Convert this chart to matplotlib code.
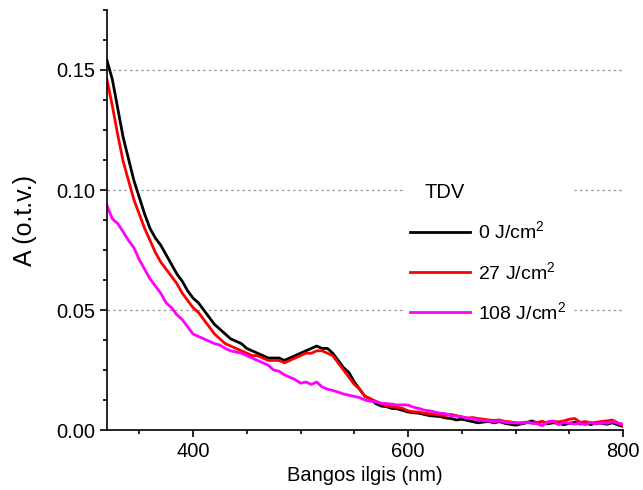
import matplotlib
matplotlib.use("Agg")
import matplotlib.pyplot as plt
import numpy as np
from matplotlib.ticker import MultipleLocator, FormatStrFormatter

plt.rcParams["font.family"] = ["Liberation Sans", "DejaVu Sans"]
plt.rcParams["mathtext.fontset"] = "custom"
plt.rcParams["mathtext.rm"] = "Liberation Sans"
plt.rcParams["mathtext.it"] = "Liberation Sans"

# wavelength grid (nm), 5 nm steps
wl = np.arange(320, 805, 5)

a_0 = [
    0.154, 0.146, 0.134, 0.122, 0.113, 0.104, 0.097, 0.090, 0.084, 0.080,
    0.077, 0.073, 0.069, 0.065, 0.062, 0.058, 0.055, 0.053, 0.050, 0.047,
    0.044, 0.042, 0.040, 0.038, 0.037, 0.036, 0.034, 0.033, 0.032, 0.031,
    0.030, 0.030, 0.030, 0.029, 0.030, 0.031, 0.032, 0.033, 0.034, 0.035,
    0.034, 0.034, 0.032, 0.029, 0.026, 0.024, 0.020, 0.017, 0.014, 0.013,
    0.011, 0.010, 0.0097, 0.009, 0.0088, 0.0082, 0.0075, 0.0072, 0.007, 0.0065,
    0.006, 0.0058, 0.0056, 0.005, 0.0048, 0.0042, 0.0045, 0.004, 0.0035, 0.003,
    0.0033, 0.0036, 0.003, 0.0035, 0.0028, 0.0024, 0.002, 0.0025, 0.003, 0.0038,
    0.003, 0.0035, 0.0026, 0.003, 0.0028, 0.0022, 0.0028, 0.0032, 0.0025, 0.003,
    0.0022, 0.003, 0.0028, 0.0024, 0.003, 0.0022, 0.0015,
]
a_27 = [
    0.146, 0.135, 0.123, 0.112, 0.104, 0.096, 0.090, 0.084, 0.079, 0.074,
    0.070, 0.067, 0.064, 0.061, 0.057, 0.054, 0.051, 0.049, 0.046, 0.043,
    0.040, 0.038, 0.036, 0.035, 0.034, 0.033, 0.032, 0.031, 0.031, 0.030,
    0.029, 0.029, 0.029, 0.028, 0.029, 0.030, 0.031, 0.032, 0.032, 0.033,
    0.033, 0.032, 0.031, 0.028, 0.025, 0.022, 0.019, 0.017, 0.014, 0.013,
    0.012, 0.011, 0.010, 0.0097, 0.0095, 0.009, 0.008, 0.0076, 0.0075, 0.007,
    0.0068, 0.0065, 0.0062, 0.006, 0.0065, 0.006, 0.0055, 0.005, 0.0052, 0.0048,
    0.0045, 0.0042, 0.004, 0.0042, 0.0036, 0.0034, 0.003, 0.003, 0.0033, 0.003,
    0.0032, 0.0035, 0.003, 0.0036, 0.0034, 0.0038, 0.0045, 0.0048, 0.0032, 0.0035,
    0.003, 0.0032, 0.0036, 0.0038, 0.0042, 0.003, 0.0018,
]
a_108 = [
    0.0935, 0.088, 0.086, 0.0826, 0.079, 0.076, 0.071, 0.067, 0.063, 0.060,
    0.057, 0.053, 0.051, 0.048, 0.046, 0.043, 0.040, 0.039, 0.038, 0.037,
    0.036, 0.0354, 0.034, 0.033, 0.0325, 0.032, 0.031, 0.030, 0.029, 0.028,
    0.027, 0.025, 0.0245, 0.023, 0.022, 0.021, 0.0195, 0.020, 0.019, 0.020,
    0.018, 0.017, 0.0165, 0.0158, 0.015, 0.0145, 0.014, 0.0135, 0.0125, 0.012,
    0.0118, 0.0112, 0.011, 0.0108, 0.0104, 0.0105, 0.0104, 0.0095, 0.009, 0.0083,
    0.008, 0.0075, 0.007, 0.0068, 0.006, 0.0058, 0.0055, 0.005, 0.0048, 0.0042,
    0.004, 0.0038, 0.0035, 0.0038, 0.0032, 0.003, 0.003, 0.0028, 0.0032, 0.0028,
    0.0026, 0.0018, 0.0035, 0.0038, 0.0022, 0.0032, 0.0028, 0.0025, 0.0028, 0.0022,
    0.0032, 0.0025, 0.003, 0.0028, 0.0035, 0.0028, 0.0025,
]

labels = ["0 J/cm$^2$", "27 J/cm$^2$", "108 J/cm$^2$"]
colors = ["black", "#ff0000", "#ff00ff"]

fig = plt.figure(figsize=(6.43, 4.9), dpi=100)
ax = fig.add_axes([0.1664, 0.1224, 0.8026, 0.8572])

for y, lab, c in zip([a_0, a_27, a_108], labels, colors):
    ax.plot(wl, y, color=c, lw=2.0, label=lab)

ax.set_xlim(320, 800)
ax.set_ylim(0, 0.175)
ax.xaxis.set_major_locator(MultipleLocator(200))
ax.xaxis.set_minor_locator(MultipleLocator(50))
ax.yaxis.set_major_locator(MultipleLocator(0.05))
ax.yaxis.set_minor_locator(MultipleLocator(0.0125))
ax.yaxis.set_major_formatter(FormatStrFormatter("%.2f"))

for s in ["top", "right"]:
    ax.spines[s].set_visible(False)
for s in ["left", "bottom"]:
    ax.spines[s].set_linewidth(1.2)
ax.tick_params(which="major", direction="out", length=5, width=1.2, labelsize=14.5)
ax.tick_params(which="minor", direction="out", length=3, width=1.2)

ax.yaxis.grid(True, which="major", color="#999999", ls=(0, (2, 2.5)), lw=0.9)
ax.set_axisbelow(True)

ax.set_xlabel("Bangos ilgis (nm)", fontsize=14.5, labelpad=4)
ax.set_ylabel("A (o.t.v.)", fontsize=18, labelpad=14)

leg = ax.legend(loc="upper left", bbox_to_anchor=(0.557, 0.625), title="TDV",
                fontsize=14, title_fontsize=14.5, frameon=True, framealpha=1,
                edgecolor="none", facecolor="white", fancybox=False,
                handlelength=3.1, handletextpad=0.4, labelspacing=0.95,
                alignment="left", borderpad=0.3)
leg.get_title().set_position((14, 0))

fig.savefig("out.png", dpi=100)
